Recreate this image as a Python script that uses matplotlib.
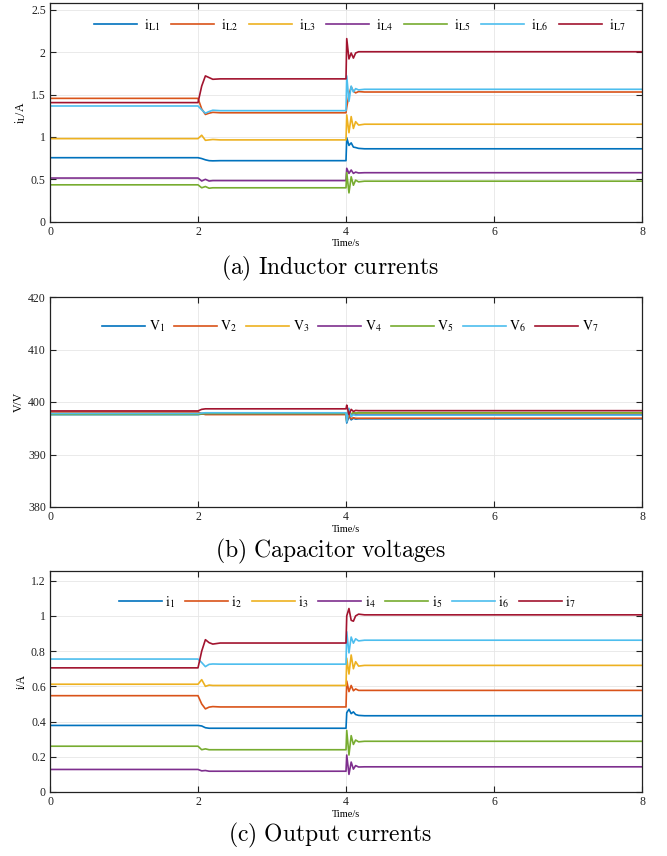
import matplotlib
matplotlib.use("Agg")
import matplotlib.pyplot as plt
from matplotlib.ticker import FuncFormatter, MultipleLocator

TIME = [0.0, 2.0, 2.05, 2.1, 2.15, 2.2, 2.3, 4.0, 4.01, 4.04, 4.07, 4.10, 4.13, 4.17, 4.25, 8.0]

COLORS = ["#0072BD", "#D95319", "#EDB120", "#7E2F8E", "#77AC30", "#4DBEEE", "#A2142F"]

# (a) inductor currents, A
IL1 = [0.755, 0.755, 0.745, 0.73, 0.72, 0.718, 0.72, 0.72, 0.99, 0.90, 0.93, 0.88, 0.875, 0.865, 0.86, 0.86]
IL2 = [1.455, 1.455, 1.33, 1.265, 1.28, 1.29, 1.285, 1.285, 1.35, 1.50, 1.59, 1.54, 1.52, 1.535, 1.53, 1.53]
IL3 = [0.98, 0.98, 1.02, 0.96, 0.965, 0.97, 0.965, 0.965, 1.26, 1.05, 1.24, 1.10, 1.18, 1.14, 1.15, 1.15]
IL4 = [0.515, 0.515, 0.48, 0.50, 0.48, 0.485, 0.485, 0.485, 0.63, 0.57, 0.61, 0.57, 0.585, 0.575, 0.578, 0.578]
IL5 = [0.435, 0.435, 0.40, 0.415, 0.395, 0.40, 0.40, 0.40, 0.58, 0.34, 0.53, 0.43, 0.49, 0.47, 0.478, 0.478]
IL6 = [1.365, 1.365, 1.32, 1.28, 1.30, 1.315, 1.31, 1.31, 1.72, 1.42, 1.60, 1.53, 1.57, 1.555, 1.562, 1.562]
IL7 = [1.405, 1.405, 1.60, 1.72, 1.70, 1.68, 1.685, 1.685, 2.16, 1.92, 1.99, 1.93, 1.99, 2.005, 2.005, 2.005]

# (b) capacitor voltages, V
V1 = [397.6, 397.6, 397.7, 397.75, 397.75, 397.75, 397.75, 397.75, 396.0, 397.3, 396.6, 396.9, 396.75, 396.8, 396.8, 396.8]
V2 = [398.1, 398.1, 397.8, 397.6, 397.6, 397.6, 397.6, 397.6, 396.3, 397.5, 396.8, 397.0, 396.9, 396.9, 396.9, 396.9]
V3 = [397.7, 397.7, 397.8, 397.85, 397.85, 397.85, 397.85, 397.85, 396.5, 398.6, 397.6, 398.0, 397.85, 397.9, 397.9, 397.9]
V4 = [397.7, 397.7, 397.75, 397.8, 397.8, 397.8, 397.8, 397.8, 396.8, 398.4, 397.4, 397.7, 397.6, 397.6, 397.6, 397.6]
V5 = [397.65, 397.65, 397.75, 397.8, 397.8, 397.8, 397.8, 397.8, 396.7, 398.5, 397.6, 398.0, 397.9, 397.95, 397.95, 397.95]
V6 = [397.8, 397.8, 397.9, 397.95, 397.95, 397.95, 397.95, 397.95, 396.2, 398.8, 397.2, 397.6, 397.45, 397.5, 397.5, 397.5]
V7 = [398.3, 398.3, 398.6, 398.7, 398.7, 398.7, 398.7, 398.7, 399.4, 397.6, 398.6, 398.2, 398.4, 398.35, 398.35, 398.35]

# (c) output currents, A
I1 = [0.378, 0.378, 0.375, 0.365, 0.362, 0.362, 0.362, 0.362, 0.45, 0.47, 0.445, 0.455, 0.44, 0.435, 0.433, 0.433]
I2 = [0.547, 0.547, 0.50, 0.472, 0.482, 0.485, 0.483, 0.483, 0.63, 0.57, 0.605, 0.575, 0.585, 0.577, 0.577, 0.577]
I3 = [0.612, 0.612, 0.638, 0.600, 0.607, 0.605, 0.605, 0.605, 0.76, 0.67, 0.778, 0.70, 0.74, 0.715, 0.719, 0.719]
I4 = [0.128, 0.128, 0.12, 0.122, 0.118, 0.118, 0.118, 0.118, 0.21, 0.10, 0.17, 0.13, 0.15, 0.142, 0.143, 0.143]
I5 = [0.26, 0.26, 0.24, 0.245, 0.24, 0.24, 0.24, 0.24, 0.35, 0.21, 0.32, 0.27, 0.295, 0.285, 0.288, 0.288]
I6 = [0.755, 0.755, 0.735, 0.712, 0.725, 0.727, 0.726, 0.726, 0.91, 0.79, 0.88, 0.845, 0.87, 0.858, 0.862, 0.862]
I7 = [0.705, 0.705, 0.80, 0.865, 0.848, 0.84, 0.846, 0.846, 1.0, 1.042, 0.975, 0.97, 1.0, 1.01, 1.006, 1.006]

LABELS_A = [r"$\mathrm{i}_{\mathrm{L%d}}$" % k for k in range(1, 8)]
LABELS_B = [r"$\mathrm{V}_{%d}$" % k for k in range(1, 8)]
LABELS_C = [r"$\mathrm{i}_{%d}$" % k for k in range(1, 8)]

SERIF = "Liberation Serif"
plt.rcParams["font.family"] = SERIF
plt.rcParams["mathtext.fontset"] = "stix"

W, H = 667, 856
fig = plt.figure(figsize=(W / 100, H / 100), dpi=100)


def px_axes(top, bottom, left=50, right=642):
    return fig.add_axes([left / W, 1 - bottom / H, (right - left) / W, (bottom - top) / H])


def panel(ax, series, labels, ylim, ystep, ylabel, leg_y, leg_x, txtpad, colsp):
    for vals, lab, col in zip(series, labels, COLORS):
        ax.plot(TIME, vals, color=col, lw=1.2, label=lab)
    ax.set_xlim(0, 8)
    ax.set_ylim(*ylim)
    ax.xaxis.set_major_locator(MultipleLocator(2))
    ax.yaxis.set_major_locator(MultipleLocator(ystep))
    fmt = FuncFormatter(lambda v, _: f"{v:g}")
    ax.xaxis.set_major_formatter(fmt)
    ax.yaxis.set_major_formatter(fmt)
    ax.tick_params(direction="in", top=True, right=True, labelsize=8.5,
                   length=4, width=0.8, colors="#222222", pad=3)
    ax.grid(True, color="#e6e6e6", lw=0.6)
    ax.set_axisbelow(True)
    for s in ax.spines.values():
        s.set_color("#222222")
        s.set_linewidth(0.9)
    ax.set_xlabel("Time/s", fontsize=7.5, labelpad=1)
    ax.set_ylabel(ylabel, fontsize=8.5, labelpad=2)
    ax.legend(loc="center", bbox_to_anchor=(leg_x, leg_y), ncol=7, frameon=False,
              fontsize=10, handlelength=3.1, handletextpad=txtpad, columnspacing=colsp)


ax_a = px_axes(3, 221.7)
panel(ax_a, [IL1, IL2, IL3, IL4, IL5, IL6, IL7], LABELS_A, (0, 2.58), 0.5,
      r"$\mathrm{i}_{\mathrm{L}}$/A", 0.9, 0.523, 0.5, 0.8)

ax_b = px_axes(297, 507)
panel(ax_b, [V1, V2, V3, V4, V5, V6, V7], LABELS_B, (380, 420), 10,
      "V/V", 0.86, 0.507, 0.25, 0.65)

ax_c = px_axes(571, 792)
panel(ax_c, [I1, I2, I3, I4, I5, I6, I7], LABELS_C, (0, 1.255), 0.2,
      "i/A", 0.86, 0.502, 0.25, 0.7)

captions = [(268, r"$\mathrm{(a)\ Inductor\ currents}$"),
            (551, r"$\mathrm{(b)\ Capacitor\ voltages}$"),
            (835, r"$\mathrm{(c)\ Output\ currents}$")]
for y, txt in captions:
    fig.text(330 / W, 1 - y / H, txt, ha="center", va="center",
             fontsize=17, math_fontfamily="cm")

fig.savefig("out.png", dpi=100)
